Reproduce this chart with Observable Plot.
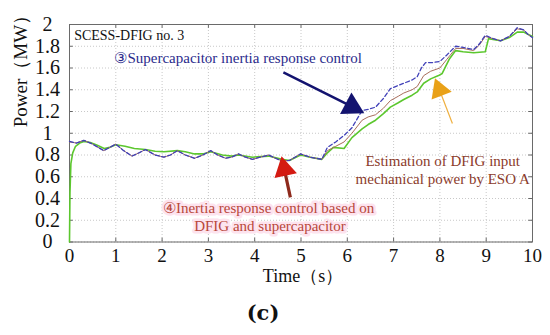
<!DOCTYPE html>
<html>
<head>
<meta charset="utf-8">
<script src="https://cdn.jsdelivr.net/npm/d3@7"></script>
<script src="https://cdn.jsdelivr.net/npm/@observablehq/plot@0.6"></script>
<style>
  html, body { margin: 0; padding: 0; background: #fff; }
  #chart { width: 550px; height: 335px; }
</style>
</head>
<body>
<div id="chart"></div>
<script>
// ---- data ----
const xTicks = [0, 1, 2, 3, 4, 5, 6, 7, 8, 9, 10];
const yTicks = [0, 0.2, 0.4, 0.6, 0.8, 1, 1.2, 1.4, 1.6, 1.8, 2];

// ③ Supercapacitor inertia response control (blue dashed)
const blueT = [0, 0.15, 0.31, 0.5, 0.74, 0.87, 1.0, 1.17, 1.35, 1.5, 1.64, 1.85, 2.04, 2.18, 2.33, 2.5, 2.7, 2.88, 3.05, 3.2, 3.37, 3.5, 3.65, 3.8, 3.95, 4.12, 4.3, 4.45, 4.59, 4.75, 4.99, 5.2, 5.45, 5.57, 5.75, 5.93, 6.1, 6.32, 6.45, 6.61, 6.78, 6.93, 7.1, 7.22, 7.4, 7.51, 7.6, 7.69, 7.85, 8.0, 8.15, 8.34, 8.5, 8.73, 8.85, 8.98, 9.15, 9.31, 9.5, 9.67, 9.81, 9.9, 10];
const blueP = [0.925, 0.91, 0.935, 0.90, 0.84, 0.87, 0.90, 0.84, 0.79, 0.82, 0.85, 0.80, 0.78, 0.80, 0.84, 0.80, 0.77, 0.80, 0.84, 0.80, 0.77, 0.78, 0.81, 0.78, 0.76, 0.78, 0.80, 0.77, 0.745, 0.75, 0.81, 0.78, 0.76, 0.87, 0.92, 0.98, 1.05, 1.21, 1.22, 1.24, 1.32, 1.41, 1.44, 1.46, 1.49, 1.52, 1.60, 1.65, 1.65, 1.66, 1.72, 1.80, 1.79, 1.77, 1.82, 1.90, 1.87, 1.85, 1.89, 1.97, 1.95, 1.91, 1.88];

// ④ Inertia response control based on DFIG and supercapacitor (brown)
const brownT = [0, 0.15, 0.31, 0.5, 0.74, 0.87, 1.0, 1.17, 1.35, 1.5, 1.64, 1.85, 2.04, 2.18, 2.33, 2.5, 2.7, 2.88, 3.05, 3.2, 3.37, 3.5, 3.65, 3.8, 3.95, 4.12, 4.3, 4.45, 4.59, 4.75, 4.99, 5.2, 5.45, 5.57, 5.75, 5.93, 6.1, 6.32, 6.45, 6.61, 6.78, 6.93, 7.1, 7.22, 7.4, 7.51, 7.65, 7.8, 8.0, 8.15, 8.34, 8.5, 8.73, 8.85, 8.98, 9.15, 9.31, 9.5, 9.67, 9.81, 9.9, 10];
const brownP = [0.92, 0.91, 0.935, 0.90, 0.84, 0.87, 0.90, 0.84, 0.79, 0.82, 0.85, 0.80, 0.78, 0.80, 0.84, 0.80, 0.77, 0.80, 0.84, 0.80, 0.77, 0.78, 0.81, 0.78, 0.76, 0.78, 0.80, 0.77, 0.745, 0.75, 0.81, 0.78, 0.76, 0.84, 0.88, 0.92, 1.00, 1.12, 1.15, 1.17, 1.23, 1.30, 1.34, 1.37, 1.40, 1.43, 1.53, 1.57, 1.60, 1.68, 1.78, 1.78, 1.76, 1.81, 1.89, 1.87, 1.85, 1.89, 1.96, 1.95, 1.91, 1.88];

// Estimation of DFIG input mechanical power by ESO A (green)
const greenT = [0, 0.01, 0.03, 0.07, 0.13, 0.22, 0.31, 0.45, 0.6, 0.75, 0.87, 1.0, 1.2, 1.4, 1.64, 1.85, 2.04, 2.33, 2.5, 2.7, 2.88, 3.05, 3.3, 3.5, 3.65, 3.95, 4.3, 4.59, 4.75, 4.99, 5.2, 5.45, 5.57, 5.7, 5.93, 6.1, 6.32, 6.45, 6.61, 6.78, 6.93, 7.1, 7.22, 7.4, 7.51, 7.65, 7.8, 7.97, 8.05, 8.2, 8.34, 8.5, 8.73, 8.98, 9.05, 9.31, 9.5, 9.67, 9.81, 9.9, 10];
const greenP = [0, 0.45, 0.72, 0.82, 0.88, 0.91, 0.925, 0.915, 0.89, 0.86, 0.87, 0.895, 0.88, 0.86, 0.85, 0.835, 0.83, 0.84, 0.83, 0.81, 0.81, 0.83, 0.80, 0.79, 0.80, 0.78, 0.79, 0.76, 0.75, 0.80, 0.78, 0.76, 0.82, 0.87, 0.86, 0.96, 1.04, 1.08, 1.12, 1.18, 1.24, 1.28, 1.31, 1.35, 1.38, 1.46, 1.50, 1.53, 1.55, 1.68, 1.76, 1.75, 1.74, 1.75, 1.87, 1.85, 1.88, 1.93, 1.93, 1.91, 1.89];

// annotations
const noteText = ["SCESS-DFIG no. 3"];
const noteX = [0.1], noteY = [1.9];
const blueLabel = ["③Supercapacitor inertia response control"];
const blueLabelX = [0.97], blueLabelY = [1.69];
const greenLabel = ["Estimation of DFIG input", "mechanical power by ESO A"];
const greenLabelX = [8.06, 8.06], greenLabelY = [0.745, 0.575];
const brownLabel = ["④Inertia response control based on", "DFIG and supercapacitor"];
const brownLabelX = [4.3, 4.33], brownLabelY = [0.315, 0.15];
// arrows: [x1, y1, x2 (tip), y2 (tip)]
const blueArrow = [4.62, 1.56, 6.1, 1.245];
const orangeArrow = [8.27, 1.09, 7.99, 1.40];
const redArrow = [4.77, 0.41, 4.64, 0.67];

// ---- build ----
const rows = (T, P) => T.map((t, i) => ({t, p: P[i]}));
const blue = rows(blueT, blueP);
const brown = rows(brownT, brownP);
const green = rows(greenT, greenP);
const serif = "Liberation Serif, Times New Roman, serif";
const fmt = d => String(+d.toFixed(1));

const chart = Plot.plot({
  width: 550,
  height: 335,
  marginLeft: 69,
  marginRight: 18,
  marginTop: 24,
  marginBottom: 93.5,
  style: {fontFamily: serif, background: "#fff", color: "#111"},
  x: {domain: [0, 10], label: null},
  y: {domain: [0, 2], label: null},
  marks: [
    Plot.gridX(xTicks, {stroke: "#c8c8c8", strokeOpacity: 1, strokeDasharray: "1,2"}),
    Plot.gridY(yTicks, {stroke: "#c8c8c8", strokeOpacity: 1, strokeDasharray: "1,2"}),
    Plot.ruleX(xTicks, {x: d => d, y1: 0, y2: 0.035, stroke: "#666"}),
    Plot.ruleX(xTicks, {x: d => d, y1: 1.965, y2: 2, stroke: "#666"}),
    Plot.ruleY(yTicks, {y: d => d, x1: 0, x2: 0.08, stroke: "#666"}),
    Plot.ruleY(yTicks, {y: d => d, x1: 9.92, x2: 10, stroke: "#666"}),
    Plot.frame({stroke: "#6a6a6a"}),
    Plot.axisX(xTicks, {tickSize: 0, tickPadding: 6, fontSize: 19, tickFormat: fmt, fill: "#111"}),
    Plot.axisY(yTicks, {tickSize: 0, tickPadding: 22, fontSize: 20, tickFormat: fmt, textAnchor: "middle", fill: "#111"}),
    Plot.line(green, {x: "t", y: "p", stroke: "#5cc72e", strokeWidth: 1.6}),
    Plot.line(brown, {x: "t", y: "p", stroke: "#a86e5c", strokeWidth: 1}),
    Plot.line(blue, {x: "t", y: "p", stroke: "#4040b8", strokeWidth: 1.3, strokeDasharray: "4,2.5"}),
    // annotation texts
    Plot.text(noteText, {x: noteX, y: noteY, text: d => d, textAnchor: "start", fontSize: 14, fill: "#111"}),
    Plot.text(blueLabel, {x: blueLabelX, y: blueLabelY, text: d => d, textAnchor: "start", fontSize: 15, fill: "#2b2b8c"}),
    Plot.text(greenLabel, {x: (d, i) => greenLabelX[i], y: (d, i) => greenLabelY[i], text: d => d, fontSize: 15, fill: "#8b3b2b"}),
    Plot.text(brownLabel, {x: (d, i) => brownLabelX[i], y: (d, i) => brownLabelY[i], text: d => d, fontSize: 15, fill: "#b8473a", stroke: "#fde3ee", strokeWidth: 5}),
    // arrows
    Plot.link([blueArrow], {x1: d => d[0], y1: d => d[1], x2: d => d[2], y2: d => d[3], stroke: "#13136f", strokeWidth: 2.5}),
    Plot.dot([blueArrow], {x: d => d[2], y: d => d[3], symbol: "triangle", r: 9, fill: "#13136f", stroke: "none", rotate: 118}),
    Plot.link([orangeArrow], {x1: d => d[0], y1: d => d[1], x2: d => d[2], y2: d => d[3], stroke: "#efb040", strokeWidth: 1.2}),
    Plot.dot([orangeArrow], {x: d => d[2], y: d => d[3], symbol: "triangle", r: 8, fill: "#e9a118", stroke: "none", rotate: -21}),
    Plot.link([redArrow], {x1: d => d[0], y1: d => d[1], x2: d => d[2], y2: d => d[3], stroke: "#8e2a1c", strokeWidth: 3.2}),
    Plot.dot([redArrow], {x: d => d[2], y: d => d[3], symbol: "triangle", r: 8.5, fill: "#d41a12", stroke: "none", rotate: -12}),
    // axis titles and panel label
    Plot.text(["Time（s）"], {frameAnchor: "bottom", text: d => d, dx: 2, dy: 40, fontSize: 18, fill: "#111"}),
    Plot.text(["Power（MW）"], {frameAnchor: "left", text: d => d, rotate: -90, dx: -49, dy: -6, fontSize: 19, fill: "#111"}),
    Plot.text(["(c)"], {frameAnchor: "bottom", text: d => d, dx: -38, dy: 78, fontSize: 21, fontWeight: "bold", fill: "#111", fontFamily: "DejaVu Serif, serif"})
  ]
});
document.getElementById("chart").appendChild(chart);
</script>
</body>
</html>
